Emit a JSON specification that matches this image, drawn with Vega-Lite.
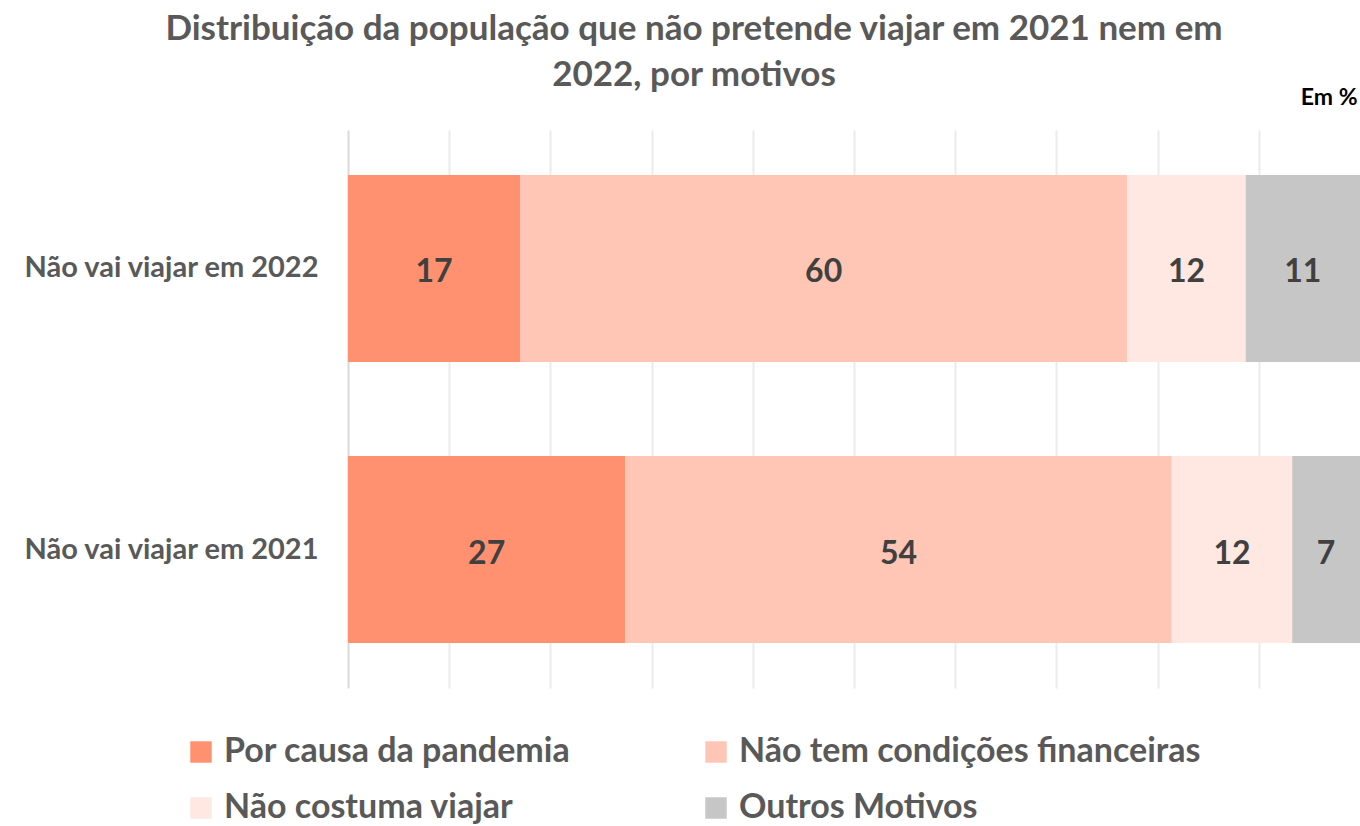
{
  "$schema": "https://vega.github.io/schema/vega-lite/v6.json",
  "autosize": {"type": "none"},
  "padding": {"left": 348, "top": 130, "right": 0, "bottom": 138},
  "width": 1012,
  "height": 558,
  "background": "white",
  "config": {
    "font": "Lato",
    "view": {"stroke": null}
  },
  "title": {
    "text": ["Distribuição da população que não pretende viajar em 2021 nem em", "2022, por motivos"],
    "fontSize": 35,
    "fontWeight": "bold",
    "color": "#595959",
    "font": "Lato",
    "anchor": "middle",
    "dx": -160,
    "offset": 40,
    "lineHeight": 46,
    "baseline": "middle",
    "dy": 64
  },
  "data": {
    "values": [
      {"ano": "Não vai viajar em 2022", "motivo": "Por causa da pandemia", "ordem": 1, "valor": 17.0},
      {"ano": "Não vai viajar em 2022", "motivo": "Não tem condições financeiras", "ordem": 2, "valor": 60.0},
      {"ano": "Não vai viajar em 2022", "motivo": "Não costuma viajar", "ordem": 3, "valor": 11.7},
      {"ano": "Não vai viajar em 2022", "motivo": "Outros Motivos", "ordem": 4, "valor": 11.3},
      {"ano": "Não vai viajar em 2021", "motivo": "Por causa da pandemia", "ordem": 1, "valor": 27.4},
      {"ano": "Não vai viajar em 2021", "motivo": "Não tem condições financeiras", "ordem": 2, "valor": 54.0},
      {"ano": "Não vai viajar em 2021", "motivo": "Não costuma viajar", "ordem": 3, "valor": 11.9},
      {"ano": "Não vai viajar em 2021", "motivo": "Outros Motivos", "ordem": 4, "valor": 6.7}
    ]
  },
  "encoding": {
    "y": {
      "field": "ano",
      "type": "nominal",
      "sort": ["Não vai viajar em 2022", "Não vai viajar em 2021"],
      "scale": {"paddingInner": 0.3345, "paddingOuter": 0.16},
      "axis": {
        "title": null,
        "labelFontSize": 29,
        "labelFontWeight": "bold",
        "labelColor": "#595959",
        "labelFont": "Lato",
        "labelPadding": 30,
        "labelLimit": 400,
        "ticks": false,
        "domain": true,
        "domainColor": "#D9D9D9",
        "domainWidth": 2
      }
    },
    "x": {
      "field": "valor",
      "type": "quantitative",
      "stack": "normalize",
      "scale": {"domain": [0, 1], "nice": false},
      "axis": {
        "orient": "top",
        "title": "Em %",
        "titleFontSize": 23,
        "titleFontWeight": "bold",
        "titleColor": "#000000",
        "titleFont": "Lato",
        "titleAnchor": "end",
        "titleAlign": "right",
        "titleX": 1009,
        "titleY": -33,
        "titleBaseline": "middle",
        "labels": false,
        "ticks": false,
        "domain": false,
        "grid": true,
        "gridColor": "#EBEBEB",
        "gridWidth": 2,
        "values": [0.1, 0.2, 0.3, 0.4, 0.5, 0.6, 0.7, 0.8, 0.9]
      }
    },
    "order": {"field": "ordem", "type": "quantitative"}
  },
  "layer": [
    {
      "mark": {"type": "bar"},
      "encoding": {
        "color": {
          "field": "motivo",
          "type": "nominal",
          "sort": ["Por causa da pandemia", "Não tem condições financeiras", "Não costuma viajar", "Outros Motivos"],
          "scale": {
            "domain": ["Por causa da pandemia", "Não tem condições financeiras", "Não costuma viajar", "Outros Motivos"],
            "range": ["#FF9171", "#FFC5B5", "#FFE8E2", "#C6C6C6"]
          },
          "legend": {
            "title": null,
            "orient": "none",
            "legendX": -164,
            "legendY": 605,
            "columns": 2,
            "direction": "horizontal",
            "symbolType": "square",
            "symbolSize": 460,
            "symbolStrokeWidth": 0,
            "labelFontSize": 34,
            "labelFontWeight": "bold",
            "labelColor": "#595959",
            "labelFont": "Lato",
            "labelLimit": 700,
            "labelOffset": 6,
            "columnPadding": 128,
            "rowPadding": 22
          }
        }
      }
    },
    {
      "mark": {"type": "text", "fontSize": 32, "fontWeight": "bold", "color": "#404040", "font": "Lato", "dy": 4},
      "encoding": {
        "x": {"field": "valor", "type": "quantitative", "stack": "normalize", "bandPosition": 0.5},
        "text": {"field": "valor", "type": "quantitative", "format": ".0f"}
      }
    }
  ]
}
